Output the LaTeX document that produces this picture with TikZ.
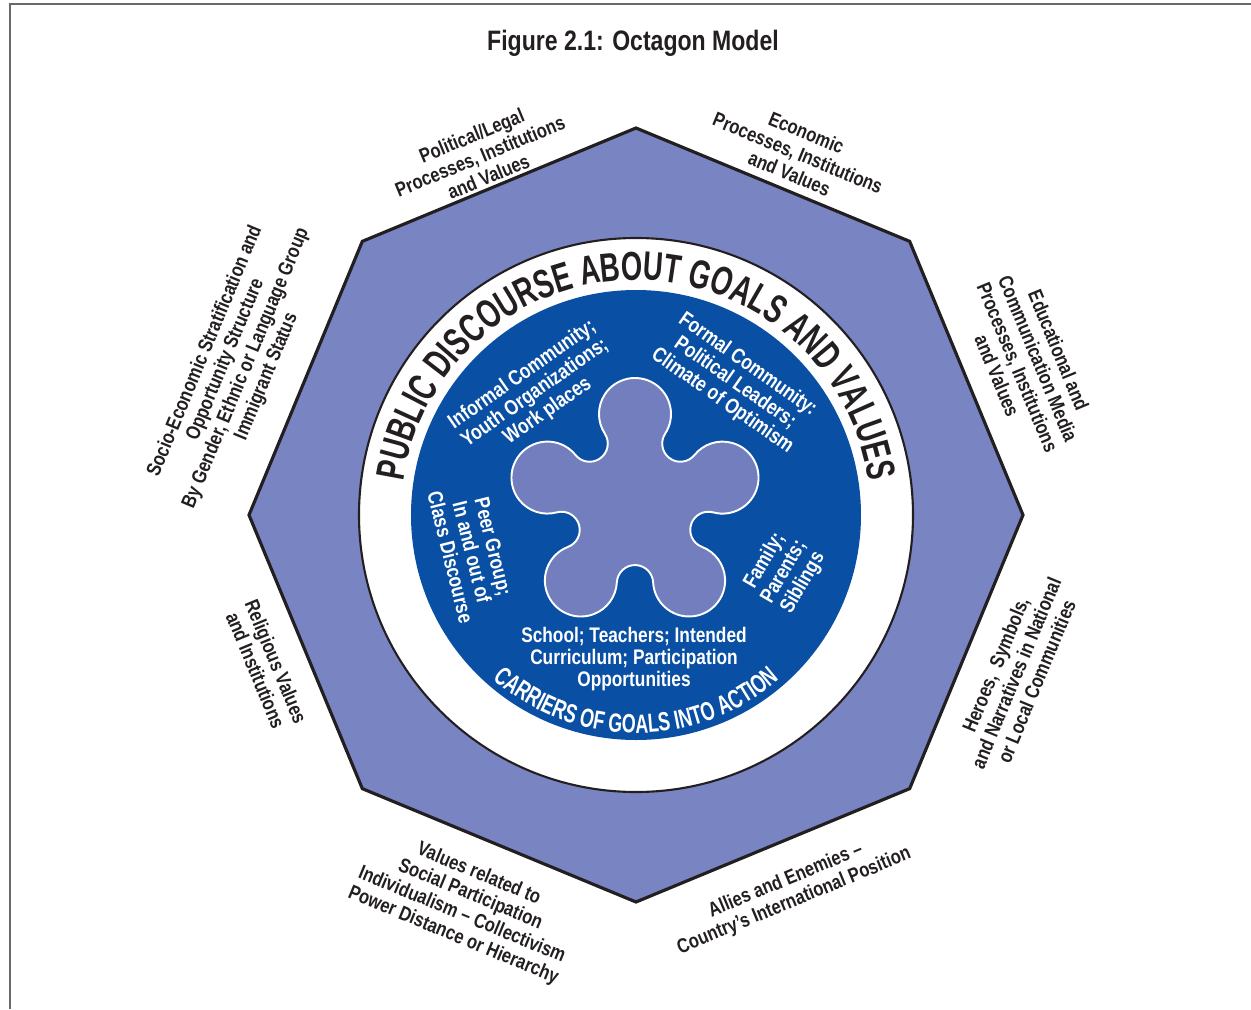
\documentclass[tikz,border=0pt]{standalone}
\usepackage{fontspec}
\setmainfont{Liberation Sans}[FakeStretch=0.82]
\newfontfamily\ringfont{Liberation Sans}[FakeStretch=0.68]
\usetikzlibrary{decorations.text}

\definecolor{octfill}{RGB}{121,133,195}
\definecolor{discblue}{RGB}{9,79,163}
\definecolor{petal}{RGB}{114,126,190}
\definecolor{ink}{RGB}{35,31,32}
\definecolor{framegray}{RGB}{105,105,105}

\newcommand\ringtop{\ringfont\bfseries\fontsize{23}{23}\selectfont}
\newcommand\ringbot{\ringfont\bfseries\fontsize{15}{15}\selectfont}

\begin{document}
\begin{tikzpicture}[x=0.02cm,y=0.02cm,
  outer/.style={align=center,inner sep=0pt,text=ink,font=\bfseries\fontsize{11.5}{12.6}\selectfont},
  inner/.style={align=center,inner sep=0pt,text=white,font=\bfseries\fontsize{12}{12.6}\selectfont},
  octagon/.style={fill=octfill,draw=ink,line width=1.8pt},
  petalshape/.style={fill=petal,draw=white,line width=1.1pt}]
\useasboundingbox (-636,-494) rectangle (615,515);

% frame and title
\draw[framegray,line width=1.2pt] (-626,-494) -- (-626,511) -- (615,511);
\node[font=\bfseries\fontsize{16}{16}\selectfont,text=ink] (ttl) at (-3,472) {Figure 2.1: Octagon Model};

% octagon, ring and disc
\draw[octagon] (90:387) \foreach \a in {135,180,...,405} { -- (\a:387) } -- cycle;
\draw[fill=white,draw=ink,line width=1.2pt] (0,0) circle[radius=277];
\fill[discblue] (0,0) circle[radius=225];

% the five lobes
\draw[petalshape,shift={(-1,9)}] (90:92) ++(-33.1:36)
  \foreach \a in {90,162,234,306,378} {
    arc[start angle=\a-123.1,end angle=\a+123.1,radius=36]
    arc[start angle=\a-56.9,end angle=\a-231.1,radius=18.17] } -- cycle;

% texts on the ring
\path[decorate,decoration={text along path,text align=center,text color=ink,
  text={|\ringtop|PUBLIC DISCOURSE ABOUT GOALS AND VALUES}}]
  (178:235) arc[start angle=178,end angle=2,radius=235];
\path[decorate,decoration={text along path,text align=center,text color=white,
  text={|\ringbot|CARRIERS OF GOALS INTO ACTION}}]
  (215:218) arc[start angle=215,end angle=325,radius=218];

% carriers
\node[inner,rotate=35] (infc) at (-101,122) {Informal Community;\\Youth Organizations;\\Work places};
\node[inner,rotate=-35] (forc) at (99,132) {Formal Community:\\Political Leaders;\\Climate of Optimism};
\node[inner,rotate=-76] (peer) at (-164,-37) {Peer Group;\\In and out of\\Class Discourse};
\node[inner,rotate=60] (fam) at (148,-57) {Family;\\Parents;\\Siblings};
\node[inner] (sch) at (-2,-144) {School; Teachers; Intended\\Curriculum; Participation\\Opportunities};

% the eight sides
\node[outer,rotate=22.5] (pol) at (-156,359) {Political/Legal\\Processes, Institutions\\and Values};
\node[outer,rotate=-22.5] (eco) at (162,362) {Economic\\Processes, Institutions\\and Values};
\node[outer,rotate=-67.5] (edu) at (392,152) {Educational and\\Communication Media\\Processes, Institutions\\and Values};
\node[outer,rotate=67.5] (her) at (380,-158) {Heroes,\ \ Symbols,\\and Narratives in National\\or Local Communities};
\node[outer,rotate=22.5] (all) at (154,-376) {Allies and Enemies --\\Country's International Position};
\node[outer,rotate=-22.5] (soc) at (-170,-390) {Values related to\\Social Participation\\Individualism -- Collectivism\\Power Distance or Hierarchy};
\node[outer,rotate=-67.5] (rel) at (-370,-151) {Religious Values\\and Institutions};
\node[outer,rotate=67.5] (ses) at (-400,151) {Socio-Economic Stratification and\\Opportunity Structure\\By Gender, Ethnic or Language Group\\Immigrant Status};
\end{tikzpicture}
\end{document}
